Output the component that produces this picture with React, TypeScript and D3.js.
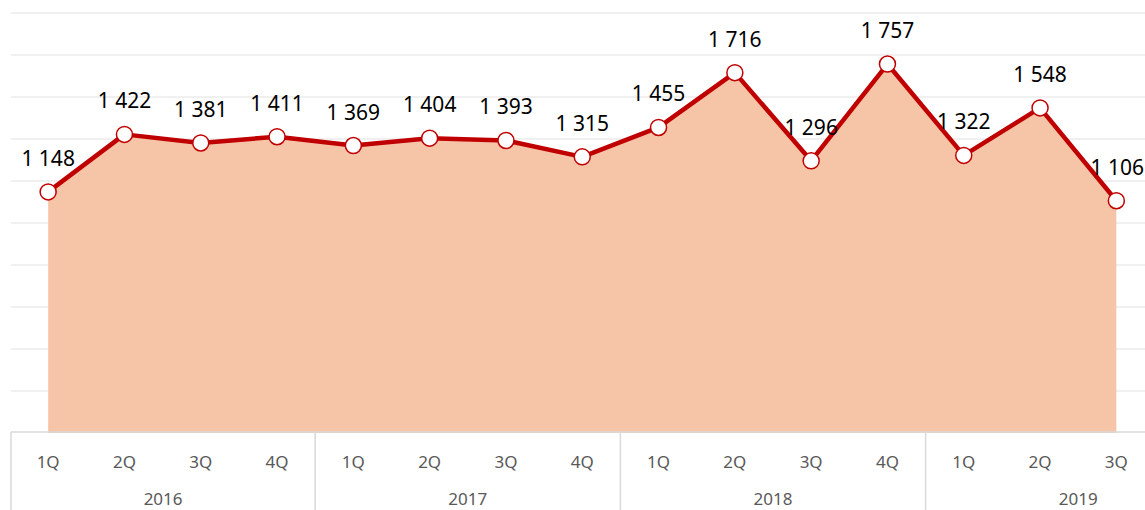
import React from 'react';
import * as d3 from 'd3';

// quarters on the axis (2019 4Q has no value yet, it falls outside the crop)
const quarters = ['1Q', '2Q', '3Q', '4Q', '1Q', '2Q', '3Q', '4Q', '1Q', '2Q', '3Q', '4Q', '1Q', '2Q', '3Q', '4Q'];
const years = ['2016', '2016', '2016', '2016', '2017', '2017', '2017', '2017', '2018', '2018', '2018', '2018', '2019', '2019', '2019', '2019'];
const values = [1148, 1422, 1381, 1411, 1369, 1404, 1393, 1315, 1455, 1716, 1296, 1757, 1322, 1548, 1106];
const yTicks = [0, 200, 400, 600, 800, 1000, 1200, 1400, 1600, 1800, 2000];

const W = 1145;
const H = 510;
const left = 10;
const plotTop = 13;
const plotBottom = 433;

const fmt = (v: number) => d3.format(',')(v).replace(/,/g, ' ');

export default function App() {
  const keys = quarters.map((_, i) => i);
  const x = d3.scaleBand<number>().domain(keys).range([left, left + 76.3 * keys.length]);
  const bw = x.bandwidth();
  const cx = (i: number) => (x(i) as number) + bw / 2;
  const y = d3.scaleLinear().domain([0, 2000]).range([plotBottom, plotTop]);

  const area = d3.area<number>().x((_, i) => cx(i)).y0(y(0)).y1(d => y(d));
  const line = d3.line<number>().x((_, i) => cx(i)).y(d => y(d));

  const yearGroups = d3.groups(keys, i => years[i]).map(([year, idx]) => ({
    year,
    x0: x(idx[0]) as number,
    x1: (x(idx[idx.length - 1]) as number) + bw,
  }));

  const font = '"Noto Sans", "DejaVu Sans", sans-serif';

  return (
    <div style={{ position: 'absolute', top: 0, left: 0 }}>
      <svg width={W} height={H} style={{ display: 'block', background: '#fff' }}>
        {yTicks.slice(1).map(t => (
          <line key={t} x1={11} x2={W} y1={y(t)} y2={y(t)} stroke="#ebebeb" strokeWidth={1.5} />
        ))}
        <path d={area(values) || ''} fill="#f6c5a8" />
        <path d={line(values) || ''} fill="none" stroke="#c00000" strokeWidth={4.5} strokeLinejoin="round" />
        {values.map((v, i) => (
          <circle key={i} cx={cx(i)} cy={y(v)} r={8} fill="#fff" stroke="#c00000" strokeWidth={1.5} />
        ))}
        {values.map((v, i) => {
          const px = cx(i);
          const overflow = px + 32 > W - 2;
          return (
            <text
              key={i}
              x={overflow ? W - 1 : px}
              y={y(v) - 26}
              textAnchor={overflow ? 'end' : 'middle'}
              fontFamily={font}
              fontSize={21}
              fill="#000"
            >
              {fmt(v)}
            </text>
          );
        })}
        {/* category axis */}
        <line x1={11} x2={W} y1={432} y2={432} stroke="#d9d9d9" strokeWidth={1.5} />
        {yearGroups.map(g => (
          <g key={g.year}>
            <line x1={Math.max(g.x0, 11)} x2={Math.max(g.x0, 11)} y1={432} y2={H} stroke="#d9d9d9" strokeWidth={1.5} />
            <text
              x={(Math.max(g.x0, 11) + g.x1) / 2}
              y={505}
              textAnchor="middle"
              fontFamily={font}
              fontSize={17}
              fill="#595959"
            >
              {g.year}
            </text>
          </g>
        ))}
        {quarters.map((q, i) =>
          cx(i) < W ? (
            <text key={i} x={cx(i)} y={468} textAnchor="middle" fontFamily={font} fontSize={17} fill="#595959">
              {q}
            </text>
          ) : null
        )}
      </svg>
    </div>
  );
}
